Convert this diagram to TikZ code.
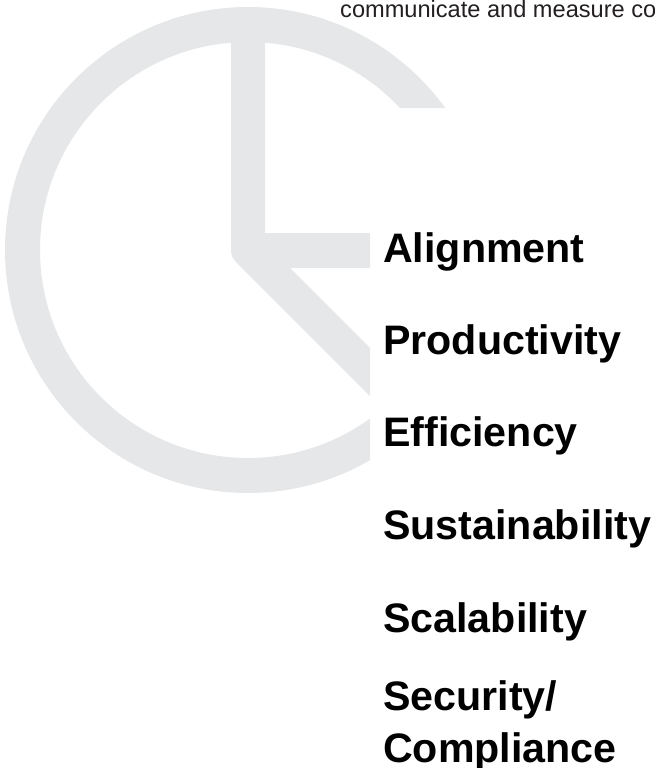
\documentclass[tikz,border=0pt]{standalone}
\usepackage{fontspec}
\setmainfont{Liberation Sans}
\definecolor{ringgrey}{HTML}{E6E7E8}
\definecolor{textdark}{HTML}{231F20}
\begin{document}
\begin{tikzpicture}[x=1pt,y=-1pt,
  shapegrey/.style={draw=ringgrey, line cap=butt},
  label/.style={anchor=base west, inner sep=0pt, font=\fontsize{41.2}{48}\selectfont\bfseries, text=black},
  caption/.style={anchor=base west, inner sep=0pt, font=\fontsize{23.6}{28}\selectfont, text=textdark}]
\useasboundingbox (0,0) rectangle (654,768);
\begin{scope}
  \clip (0,0) -- (654,0) -- (654,108) -- (370,108) -- (370,768) -- (0,768) -- cycle;
  \draw[shapegrey, line width=35pt] (248,250) circle (225.5);
  \draw[shapegrey, line width=34pt, line join=round] (248,30) -- (248,250) -- (430,432);
  \draw[shapegrey, line width=35pt] (248,250.5) -- (430,250.5);
\end{scope}
\node[caption] (cap) at (340,18) {communicate and measure co};
\node[label] (align) at (383,262) {Alignment};
\node[label] (prod) at (383,354) {Productivity};
\node[label] (eff) at (383,446) {Efficiency};
\node[label] (sust) at (383,539) {Sustainability};
\node[label] (scal) at (383,632) {Scalability};
\node[label] (sec) at (383,710) {Security/};
\node[label] (comp) at (383,762) {Compliance};
\end{tikzpicture}
\end{document}
